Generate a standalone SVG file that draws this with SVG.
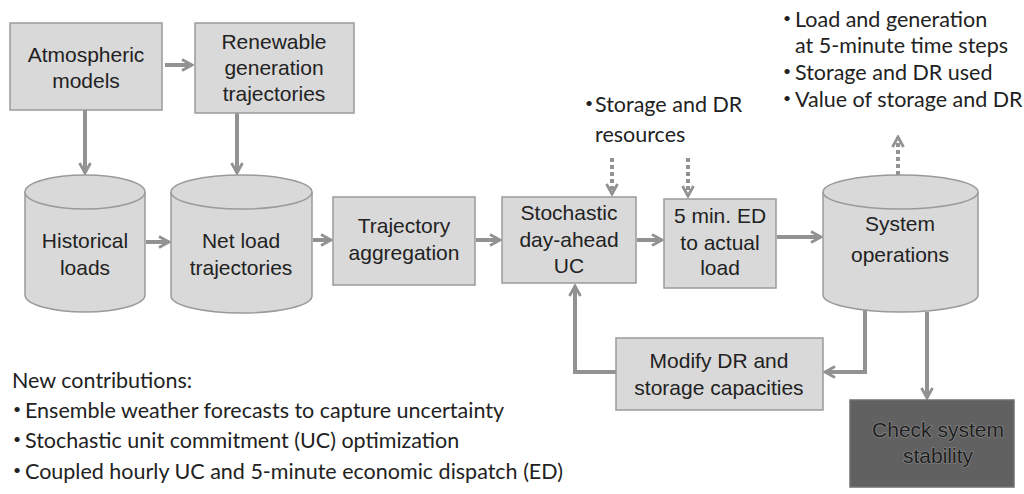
<svg xmlns="http://www.w3.org/2000/svg" width="1024" height="494" viewBox="0 0 1024 494">
<style>
.box{fill:#d9d9d9;stroke:#9a9a9a;stroke-width:1.5}
.dark{fill:#616161;stroke:#707070;stroke-width:1.5}
.t{font-family:"Liberation Sans",Arial,sans-serif;font-size:21px;fill:#222;text-anchor:middle}
.td{font-family:"Liberation Sans",Arial,sans-serif;font-size:21px;fill:#1e1e1e;stroke:#8c8c8c;stroke-width:1.2;paint-order:stroke;text-anchor:middle}
.a{font-family:Lato,"Open Sans",sans-serif;font-size:21.5px;fill:#222}
.b{font-family:Lato,"Open Sans",sans-serif;font-size:14px;fill:#222}
.c{fill:none;stroke:#929292;stroke-width:4}
.d{fill:none;stroke:#929292;stroke-width:4;stroke-dasharray:4 3}
</style>
<defs>
<marker id="ah" viewBox="0 0 14 14" refX="12" refY="7" markerWidth="14" markerHeight="14" markerUnits="userSpaceOnUse" orient="auto">
<path d="M2,1.5 L12,7 L2,12.5" fill="none" stroke="#929292" stroke-width="2.8"/>
</marker>
</defs>
<g id="connectors">
<path class="c" d="M165,65 H192" marker-end="url(#ah)"/>
<path class="c" d="M85,110 V173" marker-end="url(#ah)"/>
<path class="c" d="M237,113 V173" marker-end="url(#ah)"/>
<path class="c" d="M146,242 H169" marker-end="url(#ah)"/>
<path class="c" d="M313,240 H331" marker-end="url(#ah)"/>
<path class="c" d="M476,240 H500" marker-end="url(#ah)"/>
<path class="c" d="M637,240 H662" marker-end="url(#ah)"/>
<path class="c" d="M777,237 H821" marker-end="url(#ah)"/>
<path class="d" d="M612,158 V194" marker-end="url(#ah)"/>
<path class="d" d="M688,158 V196" marker-end="url(#ah)"/>
<path class="d" d="M898,175 V137" marker-end="url(#ah)"/>
<path class="c" d="M616,372 H575 V286" marker-end="url(#ah)"/>
<path class="c" d="M865,310 V372 H825" marker-end="url(#ah)"/>
<path class="c" d="M927,312 V398" marker-end="url(#ah)"/>
</g>
<g id="atmospheric">
<rect class="box" x="10" y="23" width="152" height="87"/>
<text class="t" x="86" y="62">Atmospheric</text>
<text class="t" x="86" y="88">models</text>
</g>
<g id="renewable">
<rect class="box" x="195" y="23" width="159" height="90"/>
<text class="t" x="274" y="49">Renewable</text>
<text class="t" x="274" y="75">generation</text>
<text class="t" x="274" y="101">trajectories</text>
</g>
<g id="historical">
<path class="box" d="M25,192 A60,17 0 0,1 145,192 L145,295 A60,17 0 0,1 25,295 Z"/>
<path class="box" fill="none" d="M25,192 A60,17 0 0,0 145,192"/>
<text class="t" x="85" y="248">Historical</text>
<text class="t" x="85" y="275">loads</text>
</g>
<g id="netload">
<path class="box" d="M171,192 A70.5,17 0 0,1 312,192 L312,296 A70.5,17 0 0,1 171,296 Z"/>
<path class="box" fill="none" d="M171,192 A70.5,17 0 0,0 312,192"/>
<text class="t" x="241" y="248">Net load</text>
<text class="t" x="241" y="275">trajectories</text>
</g>
<g id="aggregation">
<rect class="box" x="333" y="197" width="142" height="88"/>
<text class="t" x="404" y="233">Trajectory</text>
<text class="t" x="404" y="260">aggregation</text>
</g>
<g id="stochastic">
<rect class="box" x="502" y="197" width="134" height="86"/>
<text class="t" x="569" y="220">Stochastic</text>
<text class="t" x="569" y="247">day-ahead</text>
<text class="t" x="569" y="273">UC</text>
</g>
<g id="ed">
<rect class="box" x="664" y="199" width="112" height="89"/>
<text class="t" x="720" y="223">5 min. ED</text>
<text class="t" x="720" y="250">to actual</text>
<text class="t" x="720" y="275">load</text>
</g>
<g id="sysops">
<path class="box" d="M823,192 A77.5,17 0 0,1 978,192 L978,295 A77.5,17 0 0,1 823,295 Z"/>
<path class="box" fill="none" d="M823,192 A77.5,17 0 0,0 978,192"/>
<text class="t" x="900" y="231">System</text>
<text class="t" x="900" y="262">operations</text>
</g>
<g id="modify">
<rect class="box" x="616" y="338" width="207" height="72"/>
<text class="t" x="719" y="368">Modify DR and</text>
<text class="t" x="719" y="395">storage capacities</text>
</g>
<g id="check">
<rect class="dark" x="850" y="400" width="164" height="87"/>
<text class="td" x="938" y="437">Check system</text>
<text class="td" x="938" y="463">stability</text>
</g>
<g id="storage-note">
<text class="b" x="585" y="108">•</text>
<text class="a" x="595" y="112">Storage and DR</text>
<text class="a" x="595" y="142">resources</text>
</g>
<g id="outputs-note">
<text class="b" x="783" y="23">•</text>
<text class="a" x="795" y="27">Load and generation</text>
<text class="a" x="795" y="53">at 5-minute time steps</text>
<text class="b" x="783" y="76">•</text>
<text class="a" x="795" y="80">Storage and DR used</text>
<text class="b" x="783" y="103">•</text>
<text class="a" x="795" y="107">Value of storage and DR</text>
</g>
<g id="contributions">
<text class="a" x="12" y="388">New contributions:</text>
<text class="b" x="13" y="414">•</text>
<text class="a" x="25" y="418">Ensemble weather forecasts to capture uncertainty</text>
<text class="b" x="13" y="444">•</text>
<text class="a" x="25" y="448">Stochastic unit commitment (UC) optimization</text>
<text class="b" x="13" y="475">•</text>
<text class="a" x="25" y="479">Coupled hourly UC and 5-minute economic dispatch (ED)</text>
</g>
</svg>
